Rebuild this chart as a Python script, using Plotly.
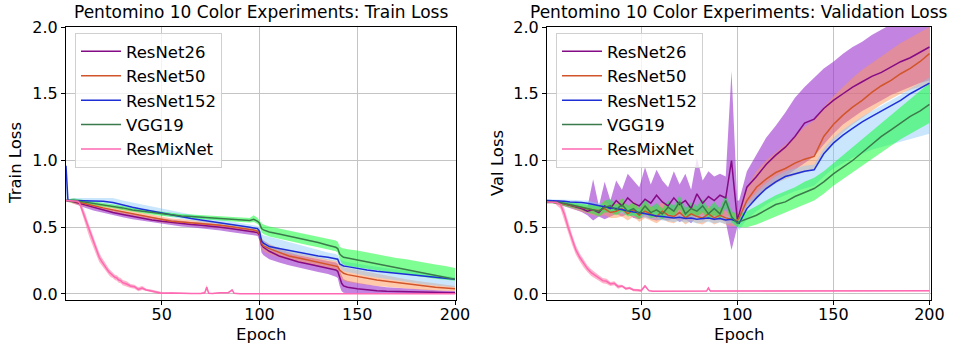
import plotly.graph_objects as go

# ---------------- DATA ----------------
MODELS = ["ResNet26", "ResNet50", "ResNet152", "VGG19", "ResMixNet"]

TRAIN_EPOCHS = [1, 2, 5, 10, 15, 20, 25, 30, 35, 40, 45, 50, 55, 60, 65, 70, 75, 80, 85, 90, 95,
                97, 99, 100, 101, 102, 105, 110, 115, 120, 125, 130, 135,
                139, 140, 141, 142, 143, 145, 150, 155, 160, 165, 170, 175, 180, 185, 190, 195, 200]

train_resnet26 = [0.70, 0.70, 0.69, 0.67, 0.645, 0.625, 0.61, 0.595, 0.58, 0.565, 0.555, 0.545, 0.535, 0.53, 0.52, 0.515, 0.51, 0.50, 0.49, 0.48, 0.47,
                  0.465, 0.46, 0.44, 0.37, 0.35, 0.32, 0.285, 0.26, 0.24, 0.225, 0.21, 0.195,
                  0.18, 0.17, 0.12, 0.08, 0.06, 0.05, 0.04, 0.03, 0.025, 0.02, 0.018, 0.016, 0.014, 0.012, 0.011, 0.01, 0.01]
train_resnet26_lo = [0.70, 0.69, 0.675, 0.65, 0.625, 0.605, 0.59, 0.575, 0.56, 0.545, 0.535, 0.525, 0.515, 0.505, 0.50, 0.49, 0.485, 0.475, 0.465, 0.455, 0.445,
                     0.44, 0.435, 0.40, 0.31, 0.29, 0.26, 0.235, 0.215, 0.195, 0.18, 0.165, 0.15,
                     0.13, 0.12, 0.06, 0.02, 0.01, 0.005, 0, 0, 0, 0, 0, 0, 0, 0, 0, 0, 0]
train_resnet26_hi = [0.70, 0.71, 0.70, 0.685, 0.665, 0.645, 0.63, 0.615, 0.60, 0.585, 0.575, 0.565, 0.555, 0.55, 0.54, 0.535, 0.53, 0.52, 0.51, 0.50, 0.49,
                     0.485, 0.48, 0.47, 0.42, 0.40, 0.37, 0.335, 0.31, 0.29, 0.275, 0.26, 0.245,
                     0.235, 0.225, 0.18, 0.14, 0.11, 0.10, 0.085, 0.07, 0.06, 0.05, 0.045, 0.04, 0.035, 0.03, 0.028, 0.025, 0.022]

train_resnet50 = [0.70, 0.70, 0.695, 0.68, 0.66, 0.645, 0.63, 0.615, 0.60, 0.585, 0.57, 0.555, 0.545, 0.54, 0.535, 0.53, 0.525, 0.515, 0.505, 0.495, 0.485,
                  0.48, 0.47, 0.45, 0.38, 0.36, 0.34, 0.31, 0.285, 0.27, 0.255, 0.24, 0.225,
                  0.21, 0.205, 0.18, 0.165, 0.155, 0.145, 0.13, 0.115, 0.105, 0.095, 0.085, 0.075, 0.065, 0.058, 0.05, 0.045, 0.04]
train_resnet50_lo = [0.70, 0.69, 0.675, 0.66, 0.64, 0.625, 0.61, 0.595, 0.58, 0.565, 0.55, 0.535, 0.525, 0.52, 0.515, 0.51, 0.505, 0.495, 0.485, 0.475, 0.465,
                     0.46, 0.45, 0.42, 0.34, 0.32, 0.30, 0.275, 0.255, 0.24, 0.225, 0.21, 0.195,
                     0.18, 0.17, 0.13, 0.11, 0.10, 0.09, 0.08, 0.07, 0.06, 0.05, 0.045, 0.04, 0.035, 0.03, 0.025, 0.022, 0.02]
train_resnet50_hi = [0.70, 0.71, 0.715, 0.70, 0.68, 0.665, 0.65, 0.635, 0.62, 0.605, 0.59, 0.575, 0.565, 0.56, 0.555, 0.55, 0.545, 0.535, 0.525, 0.515, 0.505,
                     0.50, 0.49, 0.475, 0.42, 0.40, 0.375, 0.345, 0.32, 0.305, 0.29, 0.275, 0.26,
                     0.25, 0.245, 0.225, 0.21, 0.20, 0.195, 0.18, 0.165, 0.15, 0.135, 0.12, 0.11, 0.10, 0.09, 0.08, 0.07, 0.06]

train_resnet152 = [0.96, 0.70, 0.70, 0.70, 0.70, 0.695, 0.685, 0.665, 0.65, 0.635, 0.62, 0.605, 0.59, 0.575, 0.565, 0.555, 0.545, 0.535, 0.52, 0.51, 0.50,
                   0.495, 0.49, 0.47, 0.40, 0.38, 0.355, 0.34, 0.325, 0.31, 0.30, 0.285, 0.275,
                   0.265, 0.26, 0.225, 0.215, 0.21, 0.205, 0.19, 0.18, 0.17, 0.163, 0.157, 0.15, 0.14, 0.133, 0.125, 0.117, 0.11]
train_resnet152_lo = [0.70, 0.69, 0.685, 0.685, 0.685, 0.68, 0.67, 0.65, 0.635, 0.62, 0.605, 0.59, 0.575, 0.56, 0.55, 0.54, 0.53, 0.52, 0.505, 0.495, 0.485,
                      0.48, 0.475, 0.45, 0.37, 0.35, 0.33, 0.315, 0.30, 0.29, 0.28, 0.265, 0.255,
                      0.245, 0.24, 0.20, 0.18, 0.17, 0.165, 0.15, 0.135, 0.12, 0.11, 0.10, 0.09, 0.08, 0.07, 0.06, 0.055, 0.05]
train_resnet152_hi = [0.96, 0.71, 0.72, 0.72, 0.725, 0.725, 0.72, 0.70, 0.685, 0.67, 0.655, 0.64, 0.62, 0.605, 0.595, 0.585, 0.575, 0.56, 0.545, 0.535, 0.52,
                      0.515, 0.51, 0.50, 0.45, 0.44, 0.43, 0.41, 0.39, 0.37, 0.35, 0.33, 0.31,
                      0.30, 0.29, 0.26, 0.25, 0.245, 0.24, 0.225, 0.215, 0.205, 0.195, 0.185, 0.175, 0.165, 0.155, 0.145, 0.135, 0.125]

train_vgg19 = [0.70, 0.70, 0.70, 0.69, 0.68, 0.67, 0.66, 0.645, 0.63, 0.62, 0.61, 0.60, 0.59, 0.585, 0.58, 0.575, 0.57, 0.565, 0.56, 0.555, 0.55,
               0.56, 0.545, 0.53, 0.49, 0.48, 0.465, 0.45, 0.435, 0.42, 0.40, 0.385, 0.365,
               0.35, 0.34, 0.30, 0.285, 0.275, 0.27, 0.255, 0.24, 0.225, 0.21, 0.195, 0.18, 0.165, 0.15, 0.135, 0.12, 0.11]
train_vgg19_lo = [0.70, 0.69, 0.685, 0.675, 0.665, 0.655, 0.645, 0.63, 0.615, 0.605, 0.595, 0.585, 0.575, 0.57, 0.565, 0.56, 0.555, 0.55, 0.545, 0.54, 0.535,
                  0.54, 0.525, 0.51, 0.46, 0.45, 0.43, 0.41, 0.395, 0.38, 0.365, 0.35, 0.335,
                  0.32, 0.31, 0.26, 0.23, 0.22, 0.21, 0.195, 0.185, 0.175, 0.165, 0.155, 0.145, 0.135, 0.125, 0.115, 0.105, 0.10]
train_vgg19_hi = [0.70, 0.71, 0.715, 0.705, 0.695, 0.685, 0.675, 0.66, 0.645, 0.635, 0.625, 0.615, 0.605, 0.60, 0.595, 0.59, 0.585, 0.58, 0.575, 0.57, 0.57,
                  0.59, 0.57, 0.55, 0.53, 0.52, 0.505, 0.49, 0.475, 0.46, 0.445, 0.43, 0.41,
                  0.40, 0.39, 0.355, 0.345, 0.34, 0.335, 0.325, 0.31, 0.30, 0.285, 0.27, 0.26, 0.245, 0.235, 0.22, 0.21, 0.195]

TRAIN_MIX_EPOCHS = [1, 3, 5, 7, 8, 9, 10, 11, 12, 13, 14, 15, 16, 17, 18, 19, 20, 21, 22, 23, 24, 25, 26, 27, 28, 29, 30,
                    32, 34, 36, 38, 40, 42, 44, 46, 48, 50, 55, 60, 65, 70, 72, 73, 74, 76, 80, 84, 86, 87, 90, 100, 150, 200]
train_resmixnet = [0.70, 0.70, 0.70, 0.695, 0.68, 0.64, 0.60, 0.56, 0.51, 0.465, 0.43, 0.39, 0.35, 0.31, 0.275, 0.25, 0.225, 0.205, 0.185, 0.165,
                   0.15, 0.14, 0.125, 0.12, 0.105, 0.10, 0.085, 0.075, 0.06, 0.055, 0.035, 0.045, 0.03, 0.025, 0.02, 0.01, 0.005, 0.008, 0.004,
                   0.003, 0.003, 0.01, 0.05, 0.005, 0.003, 0.01, 0.01, 0.03, 0.005, 0.002, 0.001, 0.001, 0.001]
train_resmixnet_spread = [0, 0, 0.005, 0.01, 0.02, 0.03, 0.035, 0.04, 0.04, 0.04, 0.04, 0.04, 0.04, 0.035, 0.035, 0.03, 0.03, 0.03, 0.025, 0.025,
                          0.025, 0.02, 0.02, 0.02, 0.02, 0.02, 0.02, 0.02, 0.015, 0.015, 0.015, 0.015, 0.01, 0.01, 0.01, 0.01, 0.01, 0.005, 0.005,
                          0.005, 0.005, 0.01, 0.02, 0.005, 0.005, 0.005, 0.005, 0.01, 0.005, 0.003, 0.002, 0.002, 0.002]

VAL_EPOCHS = [1, 4, 7, 10, 13, 16, 19, 22, 25, 28, 31, 34, 37, 40, 43, 46, 49, 52, 55, 58, 61, 64, 67, 70, 73, 76, 79, 82, 85, 88, 91, 94, 97, 100,
              101, 105, 110, 115, 120, 125, 130, 135, 140, 145, 150, 155, 160, 165, 170, 175, 180, 185, 190, 195, 200]

val_resnet26 = [0.69, 0.69, 0.685, 0.675, 0.665, 0.65, 0.64, 0.62, 0.63, 0.61, 0.66, 0.64, 0.70, 0.66, 0.72, 0.68, 0.66, 0.71, 0.68, 0.74, 0.69, 0.66, 0.72, 0.67, 0.70, 0.64, 0.75, 0.68, 0.73, 0.70, 0.74, 0.72, 1.00, 0.56,
                0.60, 0.80, 0.88, 0.97, 1.04, 1.10, 1.18, 1.28, 1.31, 1.39, 1.45, 1.50, 1.55, 1.59, 1.63, 1.66, 1.70, 1.74, 1.77, 1.81, 1.85]
val_resnet26_lo = [0.68, 0.68, 0.67, 0.66, 0.645, 0.63, 0.615, 0.59, 0.55, 0.58, 0.56, 0.58, 0.60, 0.58, 0.60, 0.57, 0.56, 0.58, 0.56, 0.55, 0.56, 0.55, 0.57, 0.54, 0.56, 0.53, 0.58, 0.55, 0.57, 0.55, 0.56, 0.54, 0.33, 0.50,
                   0.52, 0.66, 0.72, 0.78, 0.83, 0.88, 0.93, 0.98, 1.03, 1.12, 1.20, 1.27, 1.32, 1.37, 1.41, 1.45, 1.49, 1.52, 1.55, 1.58, 1.60]
val_resnet26_hi = [0.70, 0.70, 0.70, 0.69, 0.68, 0.67, 0.66, 0.65, 0.86, 0.66, 0.84, 0.70, 0.85, 0.78, 0.90, 0.85, 0.80, 0.95, 0.82, 0.93, 0.85, 0.80, 0.92, 0.82, 0.90, 0.78, 1.02, 0.85, 0.92, 0.88, 0.90, 0.88, 1.67, 0.70,
                   0.70, 0.92, 1.05, 1.17, 1.26, 1.36, 1.47, 1.55, 1.62, 1.69, 1.74, 1.80, 1.85, 1.89, 1.94, 1.98, 2.02, 2.05, 2.08, 2.10, 2.12]

val_resnet50 = [0.69, 0.69, 0.685, 0.675, 0.665, 0.655, 0.645, 0.635, 0.63, 0.625, 0.64, 0.61, 0.62, 0.64, 0.60, 0.63, 0.59, 0.62, 0.60, 0.58, 0.62, 0.59, 0.58, 0.61, 0.57, 0.60, 0.58, 0.57, 0.60, 0.57, 0.59, 0.57, 0.56, 0.55,
                0.57, 0.70, 0.80, 0.86, 0.91, 0.94, 0.98, 1.01, 1.03, 1.18, 1.27, 1.34, 1.40, 1.45, 1.51, 1.56, 1.60, 1.65, 1.69, 1.74, 1.80]
val_resnet50_lo = [0.68, 0.68, 0.67, 0.66, 0.645, 0.63, 0.62, 0.605, 0.59, 0.585, 0.59, 0.57, 0.57, 0.58, 0.55, 0.58, 0.54, 0.57, 0.55, 0.53, 0.56, 0.54, 0.53, 0.56, 0.52, 0.55, 0.53, 0.52, 0.55, 0.52, 0.54, 0.52, 0.51, 0.51,
                   0.52, 0.64, 0.72, 0.78, 0.83, 0.86, 0.89, 0.91, 0.93, 1.06, 1.14, 1.21, 1.27, 1.32, 1.37, 1.42, 1.46, 1.50, 1.53, 1.55, 1.56]
val_resnet50_hi = [0.70, 0.70, 0.70, 0.69, 0.685, 0.68, 0.67, 0.665, 0.67, 0.66, 0.70, 0.66, 0.68, 0.72, 0.65, 0.70, 0.64, 0.68, 0.66, 0.63, 0.70, 0.65, 0.63, 0.68, 0.62, 0.66, 0.63, 0.62, 0.66, 0.62, 0.64, 0.62, 0.61, 0.59,
                   0.62, 0.80, 0.92, 1.00, 1.06, 1.12, 1.18, 1.25, 1.30, 1.40, 1.48, 1.55, 1.62, 1.68, 1.73, 1.78, 1.83, 1.88, 1.92, 1.96, 2.00]

val_resnet152 = [0.70, 0.70, 0.70, 0.695, 0.69, 0.69, 0.685, 0.68, 0.67, 0.66, 0.655, 0.645, 0.64, 0.63, 0.625, 0.615, 0.61, 0.60, 0.595, 0.585, 0.58, 0.575, 0.57, 0.575, 0.565, 0.57, 0.56, 0.565, 0.57, 0.56, 0.565, 0.555, 0.56, 0.54,
                 0.53, 0.64, 0.72, 0.79, 0.84, 0.88, 0.90, 0.92, 0.93, 1.05, 1.13, 1.19, 1.24, 1.29, 1.33, 1.37, 1.41, 1.45, 1.50, 1.54, 1.58]
val_resnet152_lo = [0.69, 0.69, 0.685, 0.675, 0.67, 0.665, 0.66, 0.65, 0.64, 0.63, 0.625, 0.615, 0.61, 0.60, 0.595, 0.585, 0.58, 0.57, 0.565, 0.555, 0.55, 0.545, 0.54, 0.545, 0.535, 0.54, 0.53, 0.535, 0.54, 0.53, 0.535, 0.525, 0.53, 0.50,
                    0.48, 0.56, 0.62, 0.67, 0.71, 0.74, 0.77, 0.79, 0.81, 0.88, 0.94, 0.98, 1.02, 1.05, 1.08, 1.10, 1.12, 1.14, 1.16, 1.18, 1.20]
val_resnet152_hi = [0.71, 0.71, 0.71, 0.71, 0.705, 0.705, 0.70, 0.70, 0.69, 0.68, 0.675, 0.665, 0.66, 0.655, 0.65, 0.64, 0.635, 0.625, 0.62, 0.61, 0.605, 0.60, 0.595, 0.60, 0.59, 0.595, 0.585, 0.59, 0.595, 0.585, 0.59, 0.58, 0.585, 0.57,
                    0.57, 0.68, 0.76, 0.83, 0.88, 0.92, 0.94, 0.96, 0.97, 1.09, 1.17, 1.23, 1.28, 1.33, 1.37, 1.41, 1.45, 1.49, 1.54, 1.58, 1.62]

val_vgg19 = [0.69, 0.69, 0.685, 0.68, 0.67, 0.66, 0.655, 0.64, 0.63, 0.62, 0.65, 0.66, 0.63, 0.67, 0.62, 0.64, 0.60, 0.66, 0.61, 0.63, 0.60, 0.65, 0.62, 0.69, 0.60, 0.64, 0.62, 0.66, 0.60, 0.64, 0.60, 0.70, 0.58, 0.53,
             0.54, 0.56, 0.59, 0.63, 0.67, 0.69, 0.73, 0.76, 0.79, 0.84, 0.90, 0.95, 1.00, 1.06, 1.12, 1.18, 1.23, 1.28, 1.33, 1.37, 1.42]
val_vgg19_lo = [0.68, 0.68, 0.67, 0.665, 0.65, 0.64, 0.63, 0.61, 0.60, 0.58, 0.61, 0.61, 0.59, 0.62, 0.58, 0.59, 0.56, 0.61, 0.57, 0.58, 0.56, 0.60, 0.58, 0.64, 0.56, 0.59, 0.58, 0.61, 0.56, 0.59, 0.56, 0.65, 0.54, 0.50,
                0.50, 0.50, 0.52, 0.55, 0.58, 0.61, 0.64, 0.67, 0.70, 0.75, 0.81, 0.86, 0.91, 0.96, 1.01, 1.06, 1.11, 1.16, 1.20, 1.24, 1.28]
val_vgg19_hi = [0.70, 0.70, 0.70, 0.695, 0.69, 0.685, 0.68, 0.67, 0.67, 0.66, 0.70, 0.71, 0.67, 0.72, 0.66, 0.69, 0.64, 0.71, 0.65, 0.68, 0.64, 0.70, 0.66, 0.74, 0.64, 0.69, 0.66, 0.71, 0.64, 0.69, 0.64, 0.75, 0.62, 0.60,
                0.60, 0.62, 0.66, 0.70, 0.74, 0.77, 0.80, 0.84, 0.87, 0.92, 0.98, 1.04, 1.10, 1.16, 1.22, 1.28, 1.34, 1.40, 1.46, 1.52, 1.58]

VAL_MIX_EPOCHS = [1, 3, 5, 6, 8, 10, 12, 14, 16, 18, 20, 22, 24, 26, 28, 30, 32, 34, 36, 38, 40, 42, 44, 46, 48, 50, 52, 54, 56,
                  60, 70, 80, 84, 85, 86, 90, 100, 150, 200]
val_resmixnet = [0.69, 0.69, 0.69, 0.685, 0.67, 0.60, 0.50, 0.41, 0.33, 0.275, 0.23, 0.19, 0.16, 0.14, 0.12, 0.10, 0.095, 0.075, 0.08, 0.055,
                 0.06, 0.04, 0.045, 0.03, 0.03, 0.025, 0.06, 0.025, 0.02, 0.02, 0.02, 0.022, 0.022, 0.045, 0.022, 0.022, 0.022, 0.024, 0.025]
val_resmixnet_spread = [0.005, 0.005, 0.01, 0.02, 0.03, 0.04, 0.04, 0.04, 0.035, 0.03, 0.03, 0.025, 0.025, 0.02, 0.02, 0.02, 0.02, 0.015, 0.015, 0.015,
                        0.01, 0.01, 0.01, 0.01, 0.01, 0.01, 0.01, 0.005, 0.005, 0.005, 0.005, 0.005, 0.005, 0.005, 0.005, 0.005, 0.005, 0.005, 0.005]

X_TICKS = [50, 100, 150, 200]
Y_TICKS = [0.0, 0.5, 1.0, 1.5, 2.0]
TITLES = ["Pentomino 10 Color Experiments: Train Loss", "Pentomino 10 Color Experiments: Validation Loss"]
Y_LABELS = ["Train Loss", "Val Loss"]
X_LABEL = "Epoch"

# ---------------- STYLE ----------------
LINE_COLORS = {"ResNet26": "#850a85", "ResNet50": "#d2542a", "ResNet152": "#1f2fd6",
               "VGG19": "#3b7a4b", "ResMixNet": "#ff69b4"}
BAND_COLORS = {"ResNet26": "rgba(153,50,204,0.6)", "ResNet50": "rgba(255,150,90,0.5)",
               "ResNet152": "rgba(135,200,250,0.45)", "VGG19": "rgba(0,255,40,0.5)",
               "ResMixNet": "rgba(255,105,150,0.5)"}
FONT = "DejaVu Sans"
W, H = 954, 343

train_sets = {
    "ResNet26": (TRAIN_EPOCHS, train_resnet26, train_resnet26_lo, train_resnet26_hi),
    "ResNet50": (TRAIN_EPOCHS, train_resnet50, train_resnet50_lo, train_resnet50_hi),
    "ResNet152": (TRAIN_EPOCHS, train_resnet152, train_resnet152_lo, train_resnet152_hi),
    "VGG19": (TRAIN_EPOCHS, train_vgg19, train_vgg19_lo, train_vgg19_hi),
    "ResMixNet": (TRAIN_MIX_EPOCHS, train_resmixnet,
                  [max(0.0, m - s) for m, s in zip(train_resmixnet, train_resmixnet_spread)],
                  [m + s for m, s in zip(train_resmixnet, train_resmixnet_spread)]),
}
val_sets = {
    "ResNet26": (VAL_EPOCHS, val_resnet26, val_resnet26_lo, val_resnet26_hi),
    "ResNet50": (VAL_EPOCHS, val_resnet50, val_resnet50_lo, val_resnet50_hi),
    "ResNet152": (VAL_EPOCHS, val_resnet152, val_resnet152_lo, val_resnet152_hi),
    "VGG19": (VAL_EPOCHS, val_vgg19, val_vgg19_lo, val_vgg19_hi),
    "ResMixNet": (VAL_MIX_EPOCHS, val_resmixnet,
                  [max(0.0, m - s) for m, s in zip(val_resmixnet, val_resmixnet_spread)],
                  [m + s for m, s in zip(val_resmixnet, val_resmixnet_spread)]),
}

fig = go.Figure()
for sets, xa, ya, leg in [(train_sets, "x", "y", "legend"), (val_sets, "x2", "y2", "legend2")]:
    for name in MODELS:
        ep, m, lo, hi = sets[name]
        fig.add_trace(go.Scatter(x=list(ep) + list(ep)[::-1], y=list(hi) + list(lo)[::-1],
                                 fill="toself", fillcolor=BAND_COLORS[name], line=dict(width=0),
                                 mode="lines", showlegend=False, hoverinfo="skip", xaxis=xa, yaxis=ya))
    for name in MODELS:
        ep, m, lo, hi = sets[name]
        fig.add_trace(go.Scatter(x=ep, y=m, mode="lines", name=name,
                                 line=dict(color=LINE_COLORS[name], width=1.5),
                                 xaxis=xa, yaxis=ya, legend=leg))

L1 = (66, 456)
L2 = (547, 931)
TOP, BOT = 27, 300
ydom = [1 - BOT / H, 1 - TOP / H]

axis_common = dict(showline=True, linecolor="black", linewidth=1, mirror=True, automargin=False,
                   showgrid=True, gridcolor="#c4c4c4", gridwidth=1, zeroline=False,
                   ticks="outside", ticklen=4, tickwidth=1, tickcolor="black",
                   tickfont=dict(family=FONT, size=16, color="black"))

legend_common = dict(xanchor="left", yanchor="top",
                     bgcolor="rgba(255,255,255,0.8)", bordercolor="#d0d0d0", borderwidth=1,
                     font=dict(family=FONT, size=16.5, color="black"), itemwidth=40)

fig.update_layout(
    width=W, height=H, autosize=False,
    margin=dict(l=0, r=0, t=0, b=0, pad=0, autoexpand=False),
    paper_bgcolor="white", plot_bgcolor="white",
    xaxis=dict(domain=[L1[0] / W, L1[1] / W], range=[1, 200.5], tickvals=X_TICKS, anchor="y",
               ticklabelstandoff=-4, **axis_common),
    yaxis=dict(domain=ydom, range=[-0.045, 2.0], tickvals=Y_TICKS, tickformat=".1f", anchor="x", **axis_common),
    xaxis2=dict(domain=[L2[0] / W, L2[1] / W], range=[1, 200.8], tickvals=X_TICKS, anchor="y2",
                ticklabelstandoff=-4, **axis_common),
    yaxis2=dict(domain=ydom, range=[-0.045, 2.0], tickvals=Y_TICKS, tickformat=".1f", anchor="x2", **axis_common),
    legend=dict(x=75 / W, y=1 - 33 / H, **legend_common),
    legend2=dict(x=556 / W, y=1 - 33 / H, **legend_common),
    font=dict(family=FONT, size=16, color="black"),
)

annos = []
for (l, r), title, ylab, yx in [(L1, TITLES[0], Y_LABELS[0], 15), (L2, TITLES[1], Y_LABELS[1], 497)]:
    cx = (l + r) / 2 / W
    annos.append(dict(text=title, x=cx, y=1 - 12 / H, xref="paper", yref="paper",
                      showarrow=False, xanchor="center", yanchor="middle",
                      font=dict(family=FONT, size=17, color="black")))
    annos.append(dict(text=X_LABEL, x=cx, y=1 - 334 / H, xref="paper", yref="paper",
                      showarrow=False, xanchor="center", yanchor="middle",
                      font=dict(family=FONT, size=16.5, color="black")))
    annos.append(dict(text=ylab, x=yx / W, y=1 - 163 / H, xref="paper", yref="paper",
                      showarrow=False, xanchor="center", yanchor="middle", textangle=-90,
                      font=dict(family=FONT, size=16.5, color="black")))
fig.update_layout(annotations=annos)

fig.write_html("out.html", config={"displayModeBar": False},
               post_script="document.body.style.margin='0px';document.body.style.overflow='hidden';")
